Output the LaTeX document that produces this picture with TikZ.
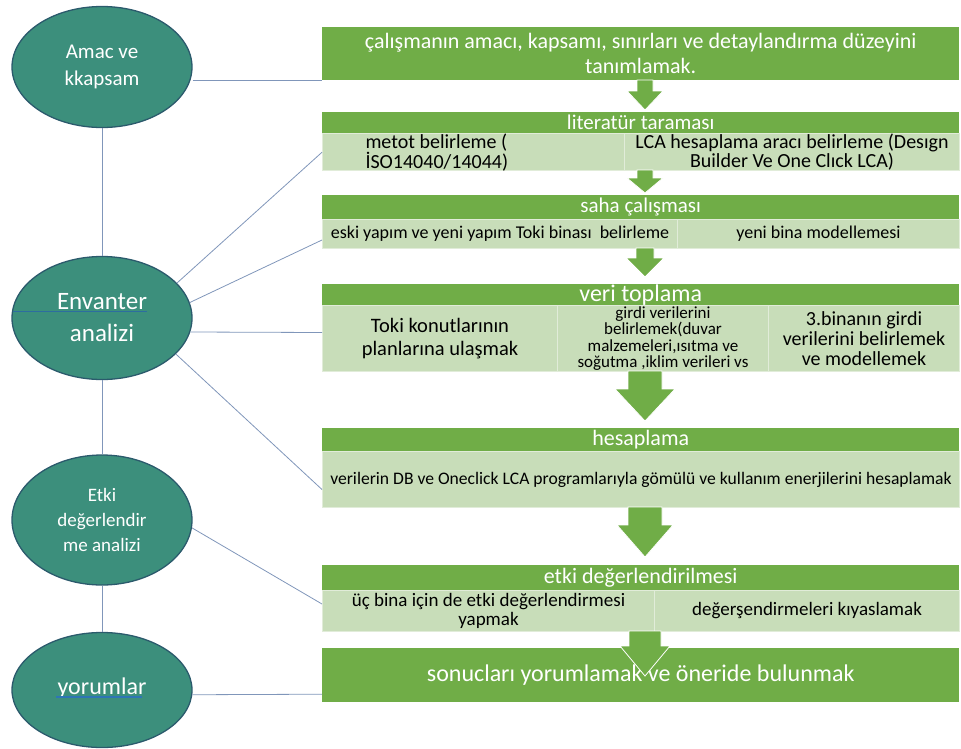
\documentclass[tikz,border=0pt]{standalone}
\usepackage{fontspec}
\setmainfont{Carlito}
\usetikzlibrary{shapes.geometric}
\definecolor{hdrgreen}{RGB}{112,173,71}
\definecolor{cellgreen}{RGB}{200,221,185}
\definecolor{tealfill}{RGB}{60,143,124}
\definecolor{tealedge}{RGB}{43,90,108}
\definecolor{linkblue}{RGB}{128,150,186}
\definecolor{ulblue}{RGB}{46,117,182}
\begin{document}
\begin{tikzpicture}[x=1pt,y=-1pt,
ellip/.style={
  ellipse,
  draw=tealedge,
  line width=1.3pt,
  fill=tealfill,
  text=white,
  minimum width=180pt,
  align=center,
  inner sep=0pt
  },
hdr/.style={
  anchor=north west,
  fill=hdrgreen,
  text=white,
  inner sep=0pt,
  align=center
  },
cell/.style={
  anchor=north west,
  fill=cellgreen,
  draw=white!45!cellgreen,
  line width=1pt,
  inner sep=0pt,
  align=center
  },
blockarrow/.style={
  fill=hdrgreen,
  draw=white,
  line width=0.8pt
  },
link/.style={
  draw=linkblue,
  line width=0.8pt
  }
]
\useasboundingbox (0,0) rectangle (961,748);

\node[ellip, minimum height=121pt, font=\fontsize{21}{27}\selectfont] (amac) at (102,67) {Amac ve\\kkapsam};
\node[ellip, minimum height=123pt, font=\fontsize{25}{32}\selectfont] (env) at (102,318) {Envanter\\analizi};
\node[ellip, minimum height=130pt, font=\fontsize{19}{25}\selectfont] (etki) at (102,520) {Etki\\değerlendir\\me analizi};
\node[ellip, minimum height=115pt, font=\fontsize{24}{28}\selectfont] (yorum) at (102,690) {\raisebox{7pt}{yorumlar}};
\draw[ulblue!70!tealedge, line width=0.6pt] (13,311) -- (147,311);
\draw[ulblue, line width=1.2pt] (56,697) -- (142,697);

\node[hdr, minimum width=637pt, minimum height=53pt, font=\fontsize{22}{25}\selectfont] (amacbox) at (322,27)
  {çalışmanın amacı, kapsamı, sınırları ve detaylandırma düzeyini\\tanımlamak.};

\node[hdr, minimum width=637pt, minimum height=21pt, font=\fontsize{21}{24}\selectfont] (lithdr) at (322,112) {literatür taraması};
\node[cell, minimum width=302pt, minimum height=37pt, text width=216pt, align=flush left, font=\fontsize{20}{18}\selectfont] (lit1) at (322,133)
  {metot belirleme (\\İSO14040/14044)};
\node[cell, minimum width=335pt, minimum height=37pt, font=\fontsize{20}{18}\selectfont] (lit2) at (624,133)
  {LCA hesaplama aracı belirleme (Desıgn\\Builder Ve One Clıck LCA)};

\node[hdr, minimum width=637pt, minimum height=24pt, font=\fontsize{21}{24}\selectfont] (sahahdr) at (322,195) {saha çalışması};
\node[cell, minimum width=355pt, minimum height=29pt, font=\fontsize{18}{20}\selectfont] (saha1) at (322,219)
  {eski yapım ve yeni yapım Toki binası\ \ belirleme};
\node[cell, minimum width=282pt, minimum height=29pt, font=\fontsize{18}{20}\selectfont] (saha2) at (677,219)
  {yeni bina modellemesi};

\node[hdr, minimum width=637pt, minimum height=21pt, font=\fontsize{24}{26}\selectfont] (verihdr) at (322,284) {veri toplama};
\node[cell, minimum width=235pt, minimum height=66pt, font=\fontsize{20.5}{23}\selectfont] (veri1) at (322,305)
  {Toki konutlarının\\planlarına ulaşmak};
\node[cell, minimum width=211pt, minimum height=66pt, font=\fontsize{17}{16.5}\selectfont] (veri2) at (557,305)
  {girdi verilerini\\belirlemek(duvar\\malzemeleri,ısıtma ve\\soğutma ,iklim verileri vs};
\node[cell, minimum width=191pt, minimum height=66pt, font=\fontsize{20}{20}\selectfont] (veri3) at (768,305)
  {3.binanın girdi\\verilerini belirlemek\\ve modellemek};

\node[hdr, minimum width=637pt, minimum height=23pt, font=\fontsize{22}{24}\selectfont] (heshdr) at (322,428) {hesaplama};
\node[cell, minimum width=637pt, minimum height=56pt, font=\fontsize{17.6}{19}\selectfont] (hes1) at (322,451)
  {verilerin DB ve Oneclick LCA programlarıyla gömülü ve kullanım enerjilerini hesaplamak};

\node[hdr, minimum width=637pt, minimum height=25pt, font=\fontsize{22}{24}\selectfont] (etkihdr) at (322,565) {etki değerlendirilmesi};
\node[cell, minimum width=332pt, minimum height=41pt, font=\fontsize{19}{19}\selectfont] (etki1) at (322,590)
  {üç bina için de etki değerlendirmesi\\yapmak};
\node[cell, minimum width=305pt, minimum height=41pt, font=\fontsize{19}{19}\selectfont] (etki2) at (654,590)
  {değerşendirmeleri kıyaslamak};

\node[hdr, minimum width=637pt, minimum height=54pt, font=\fontsize{24}{26}\selectfont] (sonuc) at (322,648)
  {sonucları yorumlamak ve öneride bulunmak};

\foreach \ya/\yb/\yc/\sw/\hw in {80/91/110/8/18,170/178/193/8/18,248/258/277/9/19,371/389/421/17/30,507/525/557/17/28,631/646/676/16/25}
  \filldraw[blockarrow] (645-\sw,\ya) -- (645+\sw,\ya) -- (645+\sw,\yb) -- (645+\hw,\yb)
    -- (645,\yc) -- (645-\hw,\yb) -- (645-\sw,\yb) -- cycle;

\draw[link] (amac.south) -- (env.north);
\draw[link] (env.south) -- (etki.north);
\draw[link] (etki.south) -- (yorum.north);
\draw[link] (amac.east |- amacbox.south west) -- (amacbox.south west);
\draw[link] (env.25) -- (lit1.west);
\draw[link] (env.10) -- ([yshift=-6pt]saha1.west);
\draw[link] (env.-9) -- ([yshift=6pt]veri1.west);
\draw[link] (env.-26) -- ([yshift=-10pt]hes1.west);
\draw[link] (etki.-5) -- ([yshift=7pt]etki1.west);
\draw[link] (yorum.-3) -- ([yshift=-19pt]sonuc.west);
\end{tikzpicture}
\end{document}
